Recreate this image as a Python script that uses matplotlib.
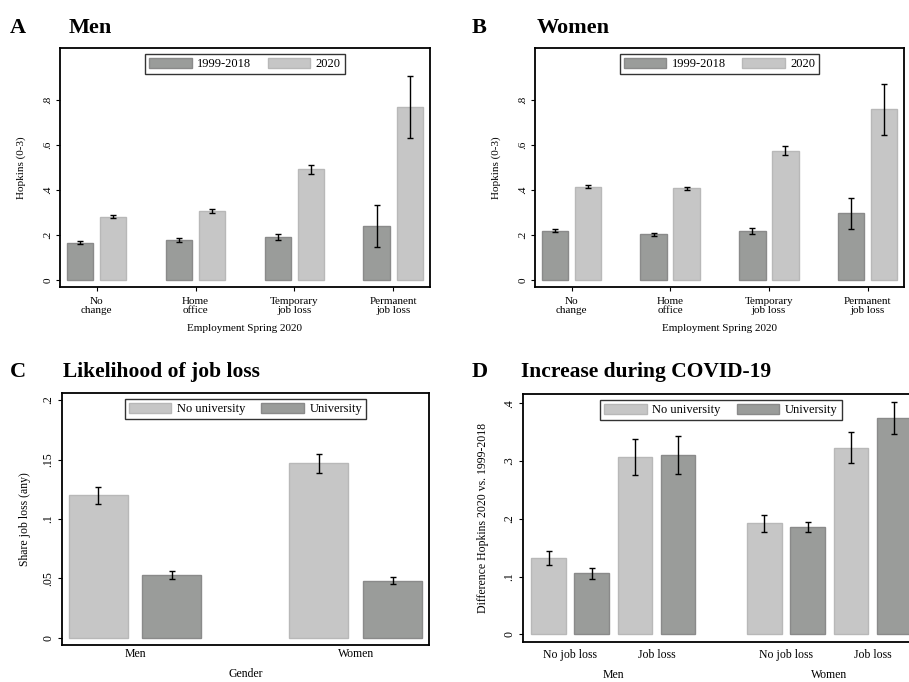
"""
Four-panel Stata-style bar chart: Hopkins scores by employment status,
job-loss likelihood and the COVID-19 increase by education.
"""

import numpy as np
import matplotlib
matplotlib.use("Agg")
import matplotlib.pyplot as plt
from matplotlib.patches import Patch
from matplotlib.transforms import blended_transform_factory

plt.rcParams["font.family"] = ["Liberation Serif", "DejaVu Serif"]

# ── Data ───────────────────────────────────────────────────────────────────────
employment_labels = ["No\nchange", "Home\noffice", "Temporary\njob loss", "Permanent\njob loss"]

men_pre      = [0.166, 0.178, 0.190, 0.240]
men_pre_err  = [0.007, 0.008, 0.014, 0.093]
men_2020     = [0.281, 0.306, 0.492, 0.768]
men_2020_err = [0.007, 0.009, 0.020, 0.137]

women_pre      = [0.219, 0.203, 0.218, 0.296]
women_pre_err  = [0.006, 0.006, 0.014, 0.070]
women_2020     = [0.415, 0.407, 0.573, 0.758]
women_2020_err = [0.008, 0.007, 0.020, 0.113]

gender_labels = ["Men", "Women"]
loss_nouni     = [0.120, 0.147]
loss_nouni_err = [0.007, 0.008]
loss_uni       = [0.053, 0.048]
loss_uni_err   = [0.0035, 0.0028]

# panel D: order = (no job loss, job loss) for men, then women
jobloss_labels = ["No job loss", "Job loss"]
diff_nouni     = [0.132, 0.307, 0.192, 0.323]
diff_nouni_err = [0.012, 0.031, 0.0145, 0.027]
diff_uni       = [0.106, 0.310, 0.186, 0.375]
diff_uni_err   = [0.0095, 0.033, 0.009, 0.028]

# ── Style ──────────────────────────────────────────────────────────────────────
DARK, DARK_EDGE   = "#9a9c9a", "#8a8a8a"
LIGHT, LIGHT_EDGE = "#c6c6c6", "#b8b8b8"
FS     = 8      # ticks / axis titles
FS_LEG = 9      # legend text
ERR_KW = dict(ecolor="black", elinewidth=1.0, capsize=2.5, capthick=1.0)

fig = plt.figure(figsize=(9.09, 6.82), dpi=100)


def style_axes(ax, yticks, ytick_labels, fs=FS):
    for s in ax.spines.values():
        s.set_linewidth(1.3)
    ax.set_yticks(yticks)
    ax.set_yticklabels(ytick_labels, rotation=90, va="center", fontsize=fs)
    ax.tick_params(axis="both", direction="out", length=2.8, width=0.8, labelsize=fs,
                   pad=2.5)


def add_legend(ax, labels, colors, edges, x=0.5):
    handles = [Patch(facecolor=c, edgecolor=e, linewidth=1.0) for c, e in zip(colors, edges)]
    leg = ax.legend(handles, labels, loc="upper center", bbox_to_anchor=(x, 0.985),
                    ncol=2, fontsize=FS_LEG, frameon=True, fancybox=False,
                    handlelength=3.4, handleheight=0.9, columnspacing=1.3,
                    handletextpad=0.45, borderpad=0.3, borderaxespad=0.2)
    leg.get_frame().set_edgecolor("black")
    leg.get_frame().set_linewidth(1.0)


def panel_title(x, y, letter, title, title_x, size=16):
    fig.text(x, y, letter, fontsize=16, fontweight="bold", va="baseline")
    fig.text(title_x, y, title, fontsize=size, fontweight="bold", va="baseline")


# ── Panels A and B: Hopkins by employment ──────────────────────────────────────
def employment_panel(rect, pre, pre_err, now, now_err):
    ax = fig.add_axes(rect)
    x = np.arange(len(employment_labels))
    ax.bar(x - 0.167, pre, 0.27, color=DARK, edgecolor=DARK_EDGE, linewidth=1.0,
           yerr=pre_err, error_kw=ERR_KW)
    ax.bar(x + 0.167, now, 0.27, color=LIGHT, edgecolor=LIGHT_EDGE, linewidth=1.0,
           yerr=now_err, error_kw=ERR_KW)
    ax.set_xlim(-0.37, 3.37)
    ax.set_ylim(-0.031, 1.031)
    ax.set_xticks(x)
    ax.set_xticklabels(employment_labels, fontsize=FS, linespacing=1.05)
    style_axes(ax, [0, 0.2, 0.4, 0.6, 0.8], ["0", ".2", ".4", ".6", ".8"])
    ax.tick_params(axis="x", pad=4)
    ax.set_ylabel("Hopkins (0-3)", fontsize=FS)
    ax.yaxis.set_label_coords(-0.092, 0.5)
    ax.set_xlabel("Employment Spring 2020", fontsize=FS)
    ax.xaxis.set_label_coords(0.5, -0.155)
    add_legend(ax, ["1999-2018", "2020"], [DARK, LIGHT], [DARK_EDGE, LIGHT_EDGE])
    return ax


employment_panel([0.066, 0.579, 0.407, 0.351], men_pre, men_pre_err, men_2020, men_2020_err)
employment_panel([0.5886, 0.579, 0.406, 0.351], women_pre, women_pre_err,
                 women_2020, women_2020_err)
panel_title(0.011, 1 - 33 / 682, "A", "Men", 69 / 909)
panel_title(472 / 909, 1 - 33 / 682, "B", "Women", 537 / 909)

# ── Panel C: likelihood of job loss ────────────────────────────────────────────
axc = fig.add_axes([0.0682, 0.0543, 0.4038, 0.3695])
xg = np.arange(len(gender_labels))
axc.bar(xg - 0.167, loss_nouni, 0.267, color=LIGHT, edgecolor=LIGHT_EDGE, linewidth=1.0,
        yerr=loss_nouni_err, error_kw=ERR_KW)
axc.bar(xg + 0.167, loss_uni, 0.267, color=DARK, edgecolor=DARK_EDGE, linewidth=1.0,
        yerr=loss_uni_err, error_kw=ERR_KW)
axc.set_xlim(-0.331, 1.332)
axc.set_ylim(-0.006, 0.206)
axc.set_xticks(xg)
axc.set_xticklabels(gender_labels)
style_axes(axc, [0, 0.05, 0.1, 0.15, 0.2], ["0", ".05", ".1", ".15", ".2"], fs=8.5)
axc.tick_params(axis="x", length=0)
axc.set_ylabel("Share job loss (any)", fontsize=8.5)
axc.yaxis.set_label_coords(-0.085, 0.5)
axc.set_xlabel("Gender", fontsize=8.5)
axc.xaxis.set_label_coords(0.5, -0.092)
add_legend(axc, ["No university", "University"], [LIGHT, DARK], [LIGHT_EDGE, DARK_EDGE])
panel_title(0.011, 1 - 377 / 682, "C", "Likelihood of job loss", 63 / 909, size=15.5)

# ── Panel D: increase during COVID-19 ──────────────────────────────────────────
axd = fig.add_axes([0.5754, 0.0587, 0.4356, 0.3636])
pos = np.array([0, 2, 5, 7])
axd.bar(pos, diff_nouni, 0.8, color=LIGHT, edgecolor=LIGHT_EDGE, linewidth=1.0,
        yerr=diff_nouni_err, error_kw=ERR_KW)
axd.bar(pos + 1, diff_uni, 0.8, color=DARK, edgecolor=DARK_EDGE, linewidth=1.0,
        yerr=diff_uni_err, error_kw=ERR_KW)
axd.set_xlim(-0.59, 8.58)
axd.set_ylim(-0.0133, 0.416)
axd.set_xticks(pos + 0.5)
axd.set_xticklabels(jobloss_labels * 2)
style_axes(axd, [0, 0.1, 0.2, 0.3, 0.4], ["0", ".1", ".2", ".3", ".4"], fs=8.5)
axd.tick_params(axis="x", length=0, pad=5)
axd.set_ylabel("Difference Hopkins 2020 vs. 1999-2018", fontsize=8.5)
axd.yaxis.set_label_coords(-0.085, 0.5)
trans = blended_transform_factory(axd.transData, axd.transAxes)
for gx, g in zip([1.5, 6.5], gender_labels):
    axd.text(gx, -0.135, g, transform=trans, ha="center", va="center", fontsize=8.5)
add_legend(axd, ["No university", "University"], [LIGHT, DARK], [LIGHT_EDGE, DARK_EDGE])
panel_title(472 / 909, 1 - 377 / 682, "D", "Increase during COVID-19", 521 / 909, size=15.5)

fig.savefig("out.png", dpi=100)
